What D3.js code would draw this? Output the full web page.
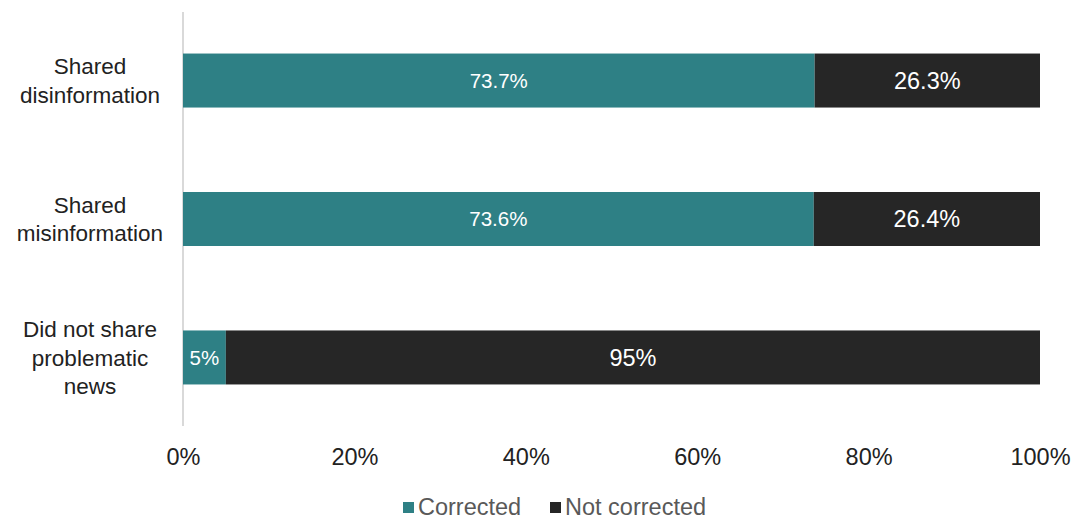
<!DOCTYPE html>
<html>
<head>
<meta charset="utf-8">
<script src="https://cdn.jsdelivr.net/npm/d3@7/dist/d3.min.js"></script>
<style>
  html, body { margin: 0; padding: 0; background: #fff; }
  svg text { font-family: "Liberation Sans", Arial, sans-serif; }
</style>
</head>
<body>
<svg id="chart" width="1075" height="520"></svg>
<script>
// Share of users who were corrected after sharing, by type of news shared
const categories = [
  ["Shared", "disinformation"],
  ["Shared", "misinformation"],
  ["Did not share", "problematic", "news"]
];
const corrected = [73.7, 73.6, 5];
const notCorrected = [26.3, 26.4, 95];
const tickValues = [0, 20, 40, 60, 80, 100];
const seriesNames = ["Corrected", "Not corrected"];
const colors = ["#2e8085", "#262626"];

const svg = d3.select("#chart");
const margin = { left: 183, right: 35, top: 12, bottom: 94 };
const W = 1075, H = 520;

const x = d3.scaleLinear().domain([0, 100]).range([margin.left, W - margin.right]);
const y = d3.scaleBand().domain(d3.range(categories.length))
  .range([margin.top, H - margin.bottom]).paddingInner(0.61).paddingOuter(0.3);

// vertical category axis line
svg.append("line")
  .attr("x1", margin.left).attr("x2", margin.left)
  .attr("y1", margin.top).attr("y2", H - margin.bottom)
  .attr("stroke", "#d9d9d9").attr("stroke-width", 2);

// stacked bars
const rows = categories.map((c, i) => ({ i, a: corrected[i], b: notCorrected[i] }));
const g = svg.append("g");
rows.forEach(r => {
  g.append("rect").attr("x", x(0)).attr("y", y(r.i))
    .attr("width", x(r.a) - x(0)).attr("height", y.bandwidth()).attr("fill", colors[0]);
  g.append("rect").attr("x", x(r.a)).attr("y", y(r.i))
    .attr("width", x(r.a + r.b) - x(r.a)).attr("height", y.bandwidth()).attr("fill", colors[1]);
  const cy = y(r.i) + y.bandwidth() / 2;
  g.append("text").attr("x", (x(0) + x(r.a)) / 2).attr("y", cy)
    .attr("dy", "0.36em").attr("text-anchor", "middle")
    .attr("fill", "#fff").attr("font-size", 20.5).text(r.a + "%");
  g.append("text").attr("x", (x(r.a) + x(r.a + r.b)) / 2).attr("y", cy)
    .attr("dy", "0.36em").attr("text-anchor", "middle")
    .attr("fill", "#fff").attr("font-size", 23.5).text(r.b + "%");
});

// category labels
categories.forEach((lines, i) => {
  const cy = y(i) + y.bandwidth() / 2;
  const lh = 28.5;
  const t = svg.append("text").attr("text-anchor", "middle").attr("fill", "#222")
    .attr("font-size", 22.5);
  lines.forEach((l, k) => {
    t.append("tspan").attr("x", 90)
      .attr("y", cy + (k - (lines.length - 1) / 2) * lh)
      .attr("dy", "0.36em").text(l);
  });
});

// x axis tick labels
const xAxis = d3.axisBottom(x).tickValues(tickValues).tickSize(0).tickPadding(0)
  .tickFormat(d => d + "%");
const ax = svg.append("g").attr("transform", `translate(0, 448)`).call(xAxis);
ax.select(".domain").remove();
ax.selectAll("text").attr("font-size", 23.5).attr("fill", "#222")
  .attr("font-family", "Liberation Sans, Arial, sans-serif");

// legend
const legend = svg.append("g");
const legendX = [403, 550];
seriesNames.forEach((n, i) => {
  legend.append("rect").attr("x", legendX[i]).attr("y", 502)
    .attr("width", 11).attr("height", 11).attr("fill", colors[i]);
  legend.append("text").attr("x", legendX[i] + 15).attr("y", 507)
    .attr("dy", "0.36em").attr("font-size", 23.5).attr("fill", "#595959").text(n);
});
</script>
</body>
</html>
